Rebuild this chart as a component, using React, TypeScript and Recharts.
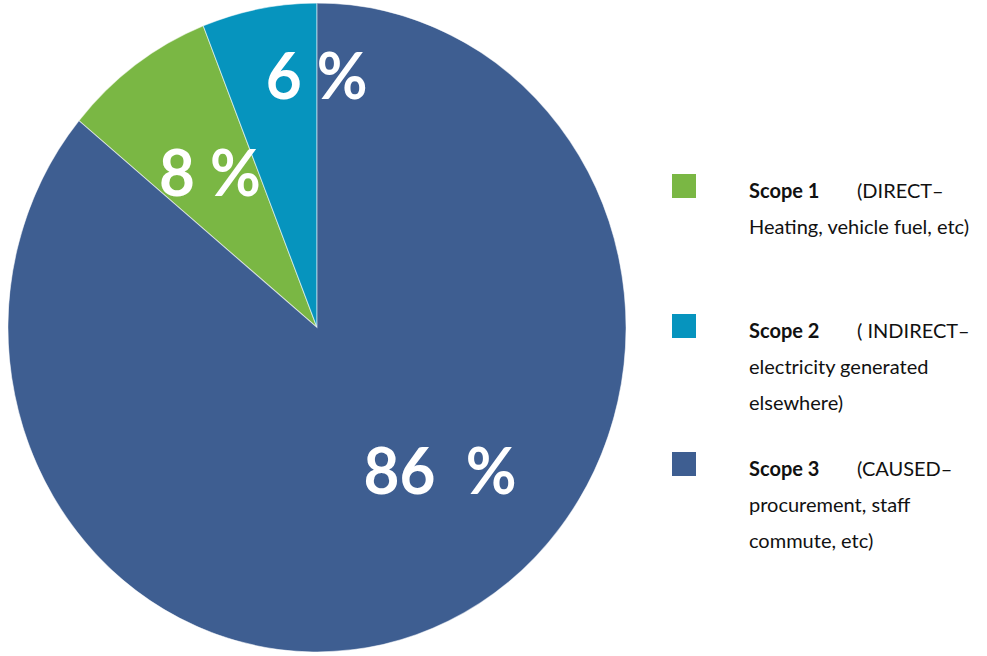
import React from 'react';
import { PieChart, Pie, Cell } from 'recharts';

const categories = ['Scope 1', 'Scope 2', 'Scope 3'];
const values = [8, 6, 86];
const valueLabels = ['8 %', '6 %', '86  %'];
const legendHeads = ['(DIRECT–', '( INDIRECT–', '(CAUSED–'];
const legendLines = [
  ['Heating, vehicle fuel, etc)'],
  ['electricity generated', 'elsewhere)'],
  ['procurement, staff', 'commute, etc)'],
];
const colors = ['#7AB744', '#0694BE', '#3E5E91'];

const data = categories.map((name, i) => ({ name, value: values[i] }));
const total = values.reduce((a, b) => a + b, 0);
const startAngle = 90 + ((values[0] + values[1]) / total) * 360;

// label placement tweaks (angle shift in degrees, radius fraction)
const labelPlacement = [
  { dAngle: 0, r: 0.59 },
  { dAngle: -10.7, r: 0.775 },
  { dAngle: 16.8, r: 0.595 },
];
const legendTops = [174, 314, 452];
const RAD = Math.PI / 180;

const renderLabel = (props: any) => {
  const { cx, cy, midAngle, outerRadius, index } = props;
  const p = labelPlacement[index];
  const a = (midAngle + p.dAngle) * RAD;
  const r = outerRadius * p.r;
  const x = cx + r * Math.cos(a);
  const y = cy - r * Math.sin(a);
  return (
    <text
      x={x}
      y={y + 22}
      fill="#ffffff"
      textAnchor="middle"
      style={{ whiteSpace: 'pre', fontFamily: 'Lato, sans-serif', fontWeight: 700, fontSize: 62 }}
    >
      {valueLabels[index]}
    </text>
  );
};

export default function App() {
  return (
    <div style={{ position: 'absolute', left: 0, top: 0, width: 987, height: 656, background: '#fff', overflow: 'hidden' }}>
      <div
        style={{
          position: 'absolute',
          left: 0,
          top: 0,
          transform: 'scaleY(1.05)',
          transformOrigin: '317px 327.5px',
        }}
      >
        <PieChart width={640} height={656} margin={{ top: 0, right: 0, bottom: 0, left: 0 }}>
          <Pie
            data={data}
            dataKey="value"
            nameKey="name"
            cx={317}
            cy={327.5}
            outerRadius={309}
            startAngle={startAngle}
            endAngle={startAngle - 360}
            stroke="rgba(255,255,255,0.55)"
            strokeWidth={1}
            label={renderLabel}
            labelLine={false}
            isAnimationActive={false}
          >
            {data.map((d, i) => (
              <Cell key={d.name} fill={colors[i]} />
            ))}
          </Pie>
        </PieChart>
      </div>
      {categories.map((name, i) => (
        <div
          key={name}
          style={{
            position: 'absolute',
            left: 672,
            top: legendTops[i],
            width: 315,
            fontFamily: 'Lato, sans-serif',
            fontSize: 20,
            color: '#111',
          }}
        >
          <div style={{ position: 'absolute', left: 0, top: 0, width: 24, height: 24, background: colors[i] }} />
          <div style={{ position: 'absolute', left: 77, top: -2, lineHeight: '36px', whiteSpace: 'nowrap' }}>
            <div>
              <span style={{ display: 'inline-block', width: 108, fontWeight: 700 }}>{name}</span>
              <span>{legendHeads[i]}</span>
            </div>
            {legendLines[i].map((ln) => (
              <div key={ln}>{ln}</div>
            ))}
          </div>
        </div>
      ))}
    </div>
  );
}
